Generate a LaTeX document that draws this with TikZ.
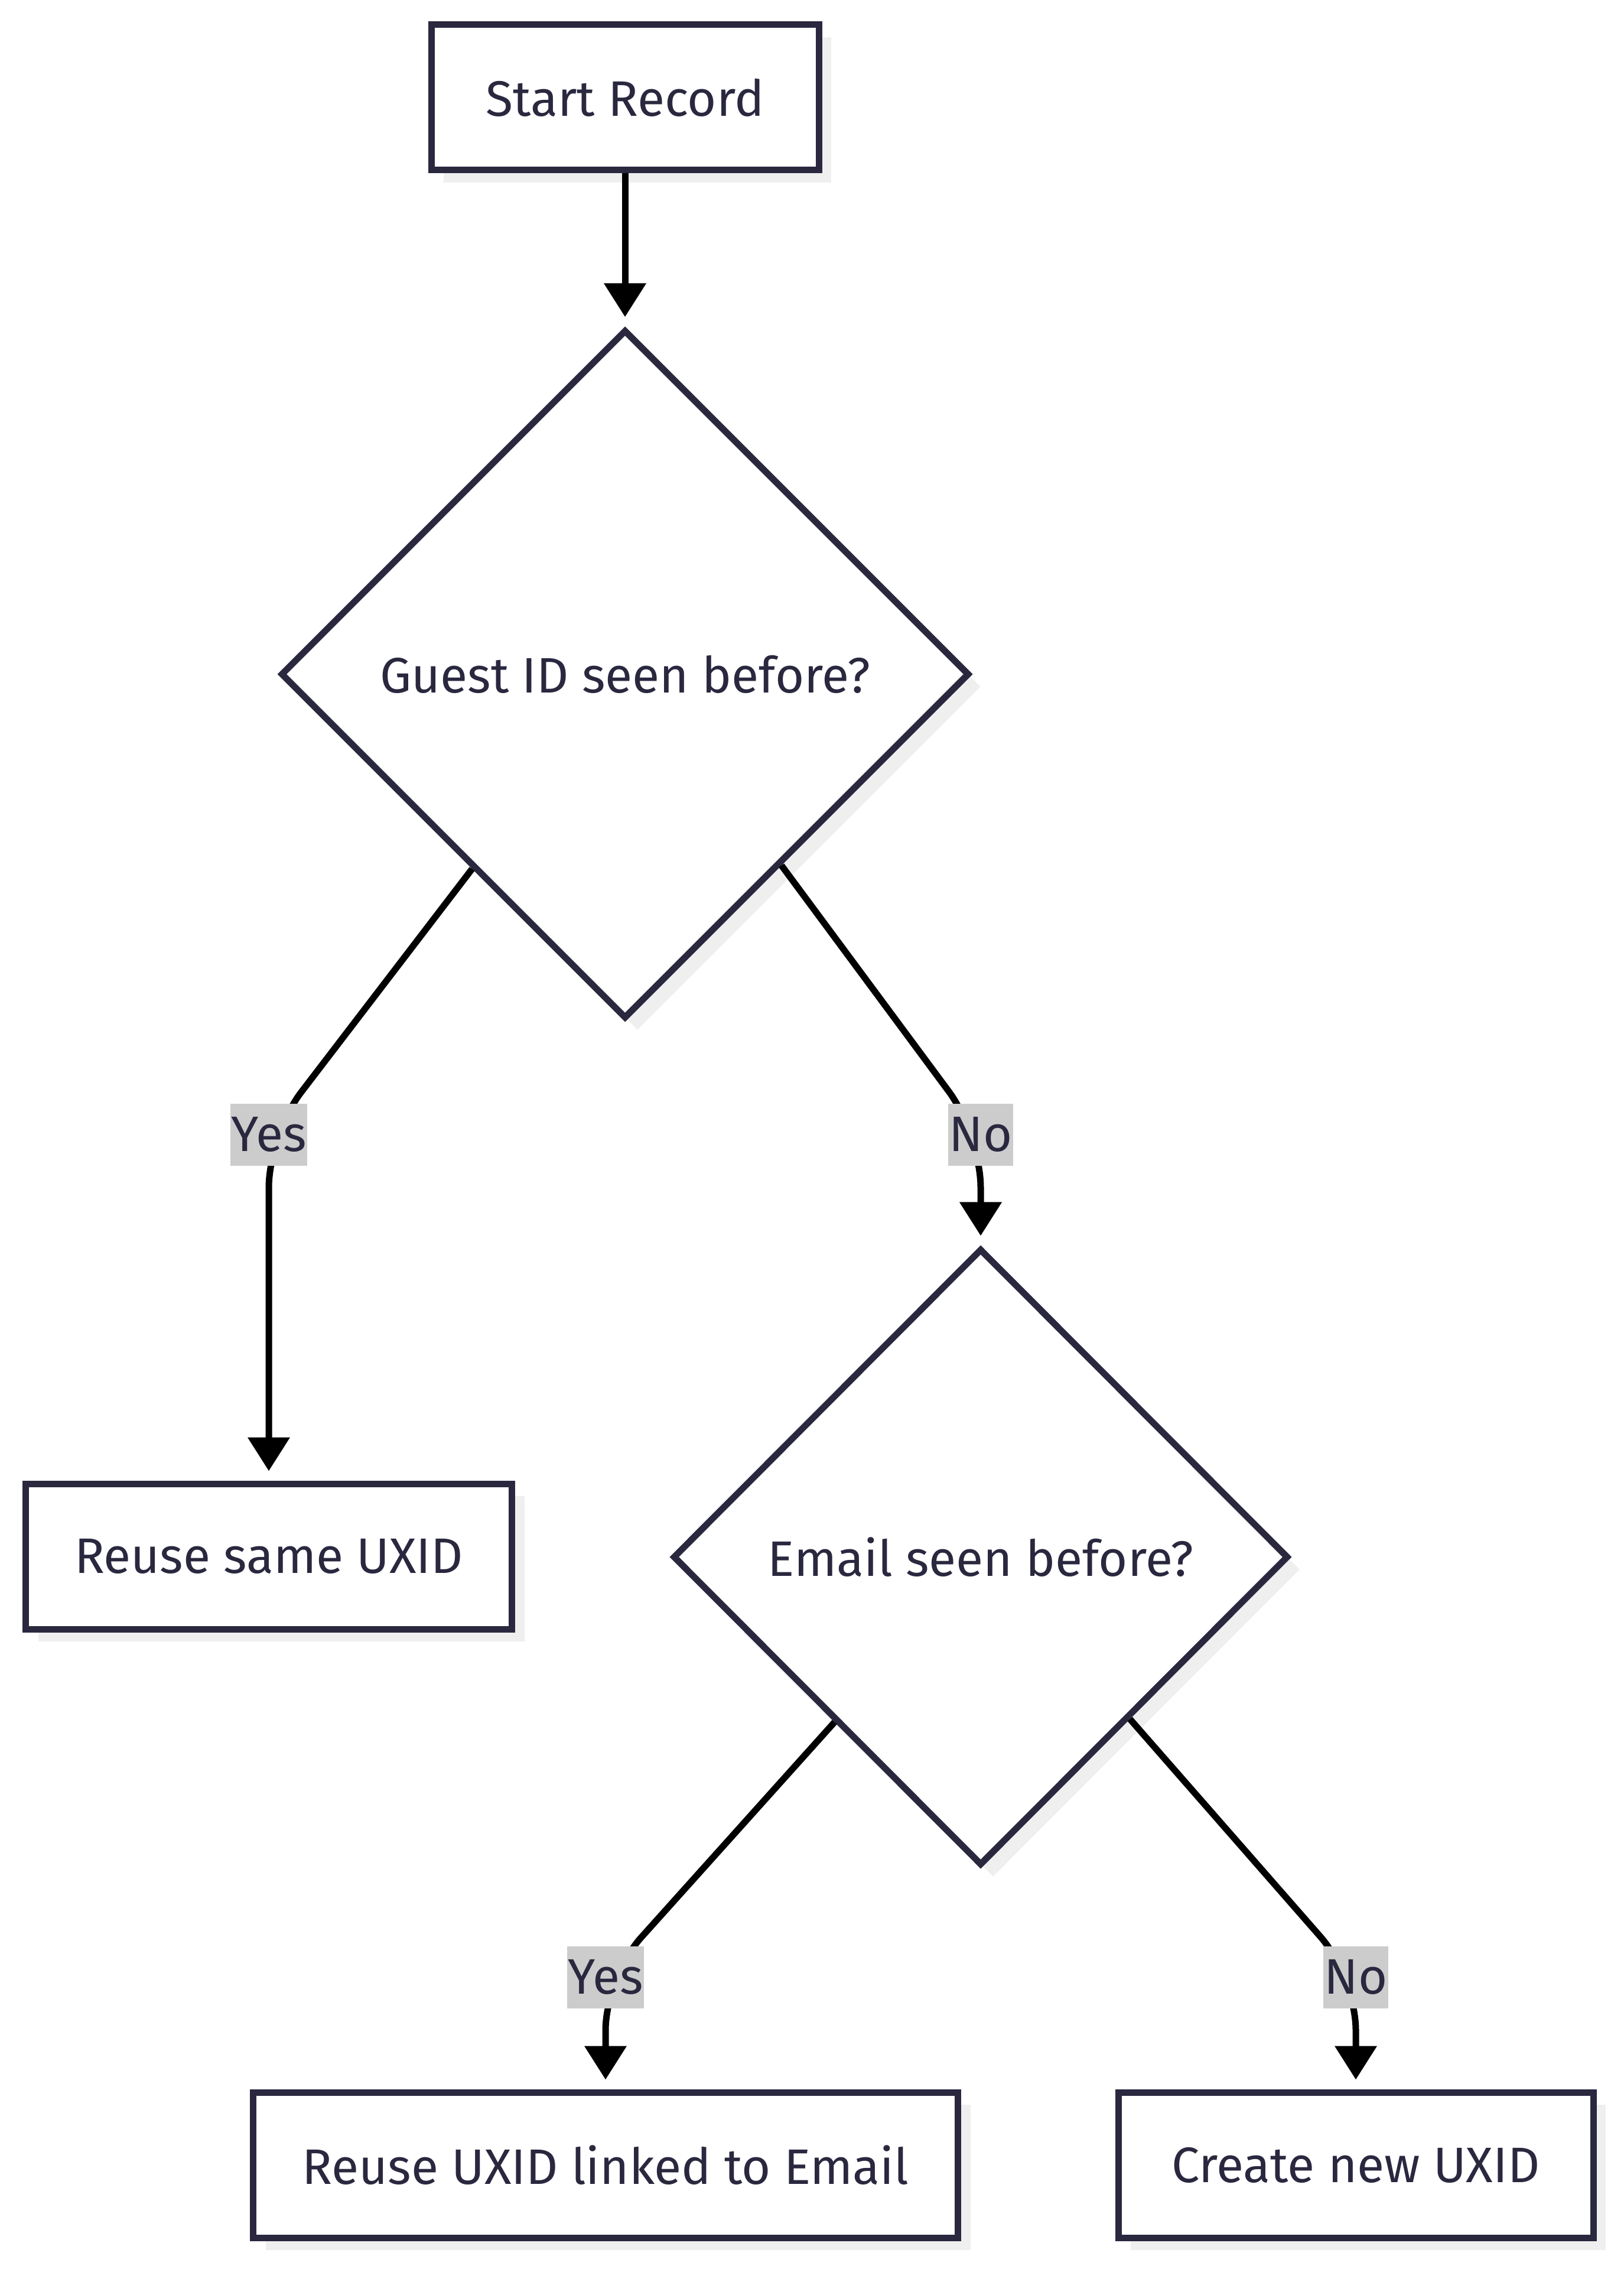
\documentclass[tikz,border=0pt]{standalone}
\usepackage{fontspec}
\setmainfont{Fira Sans}
\usetikzlibrary{shapes,shadows,arrows.meta,calc}
\definecolor{ink}{HTML}{29283F}
\definecolor{lblgray}{HTML}{CCCCCC}
\definecolor{shade}{HTML}{EFEFEF}

\begin{document}
\begin{tikzpicture}[auto, node distance=9.76cm, semithick,
  every node/.style={font=\fontsize{24}{28}\selectfont, text=ink},
  boxshadow/.style={drop shadow={shadow xshift=0.21cm, shadow yshift=-0.21cm, fill=shade, opacity=1}},
  block/.style={rectangle, draw=ink, line width=0.11cm, fill=white, minimum height=2.46cm, inner sep=0pt, boxshadow},
  decision/.style={diamond, draw=ink, line width=0.11cm, fill=white, inner sep=0pt, boxshadow},
  flow/.style={draw=black, line width=0.11cm, rounded corners=0.9cm, -{Triangle[length=0.57cm, width=0.69cm]}, shorten >=0.16cm},
  answer/.style={fill=lblgray, inner xsep=0.02cm, inner ysep=0pt, minimum height=1.05cm}]
  \useasboundingbox (0,0) rectangle (27.49,-38.40);

  \node [block, minimum width=6.56cm] (start) at (10.58,-1.65) {Start Record};
  \node [decision, minimum width=11.66cm, minimum height=11.66cm] (guest) [below of=start] {Guest ID seen before?};
  \node [block, minimum width=8.23cm] (reuse) at (4.55,-26.34) {Reuse same UXID};
  \node [decision, minimum width=10.42cm, minimum height=10.44cm] (email) at (16.60,-26.35) {Email seen before?};
  \node [block, minimum width=11.93cm] (linked) at (10.25,-36.64) {Reuse UXID linked to Email};
  \node [block, minimum width=8.04cm] (create) at (22.95,-36.64) {Create new UXID};

  \coordinate (gyes) at (4.55,-19.20);
  \coordinate (gno) at (16.60,-19.20);
  \coordinate (eyes) at (10.25,-33.46);
  \coordinate (eno) at (22.95,-33.46);

  \draw [flow] (start) -- (guest);
  \draw [flow] ($(guest.west)!0.56!(guest.south)$) -- (gyes) -- (reuse);
  \draw [flow] ($(guest.east)!0.55!(guest.south)$) -- (gno) -- (email);
  \draw [flow] ($(email.west)!0.53!(email.south)$) -- (eyes) -- (linked);
  \draw [flow] ($(email.east)!0.52!(email.south)$) -- (eno) -- (create);

  \node [answer] (gyestxt) at (gyes) {Yes};
  \node [answer] (gnotxt) at (gno) {No};
  \node [answer] (eyestxt) at (eyes) {Yes};
  \node [answer] (enotxt) at (eno) {No};
\end{tikzpicture}
\end{document}
